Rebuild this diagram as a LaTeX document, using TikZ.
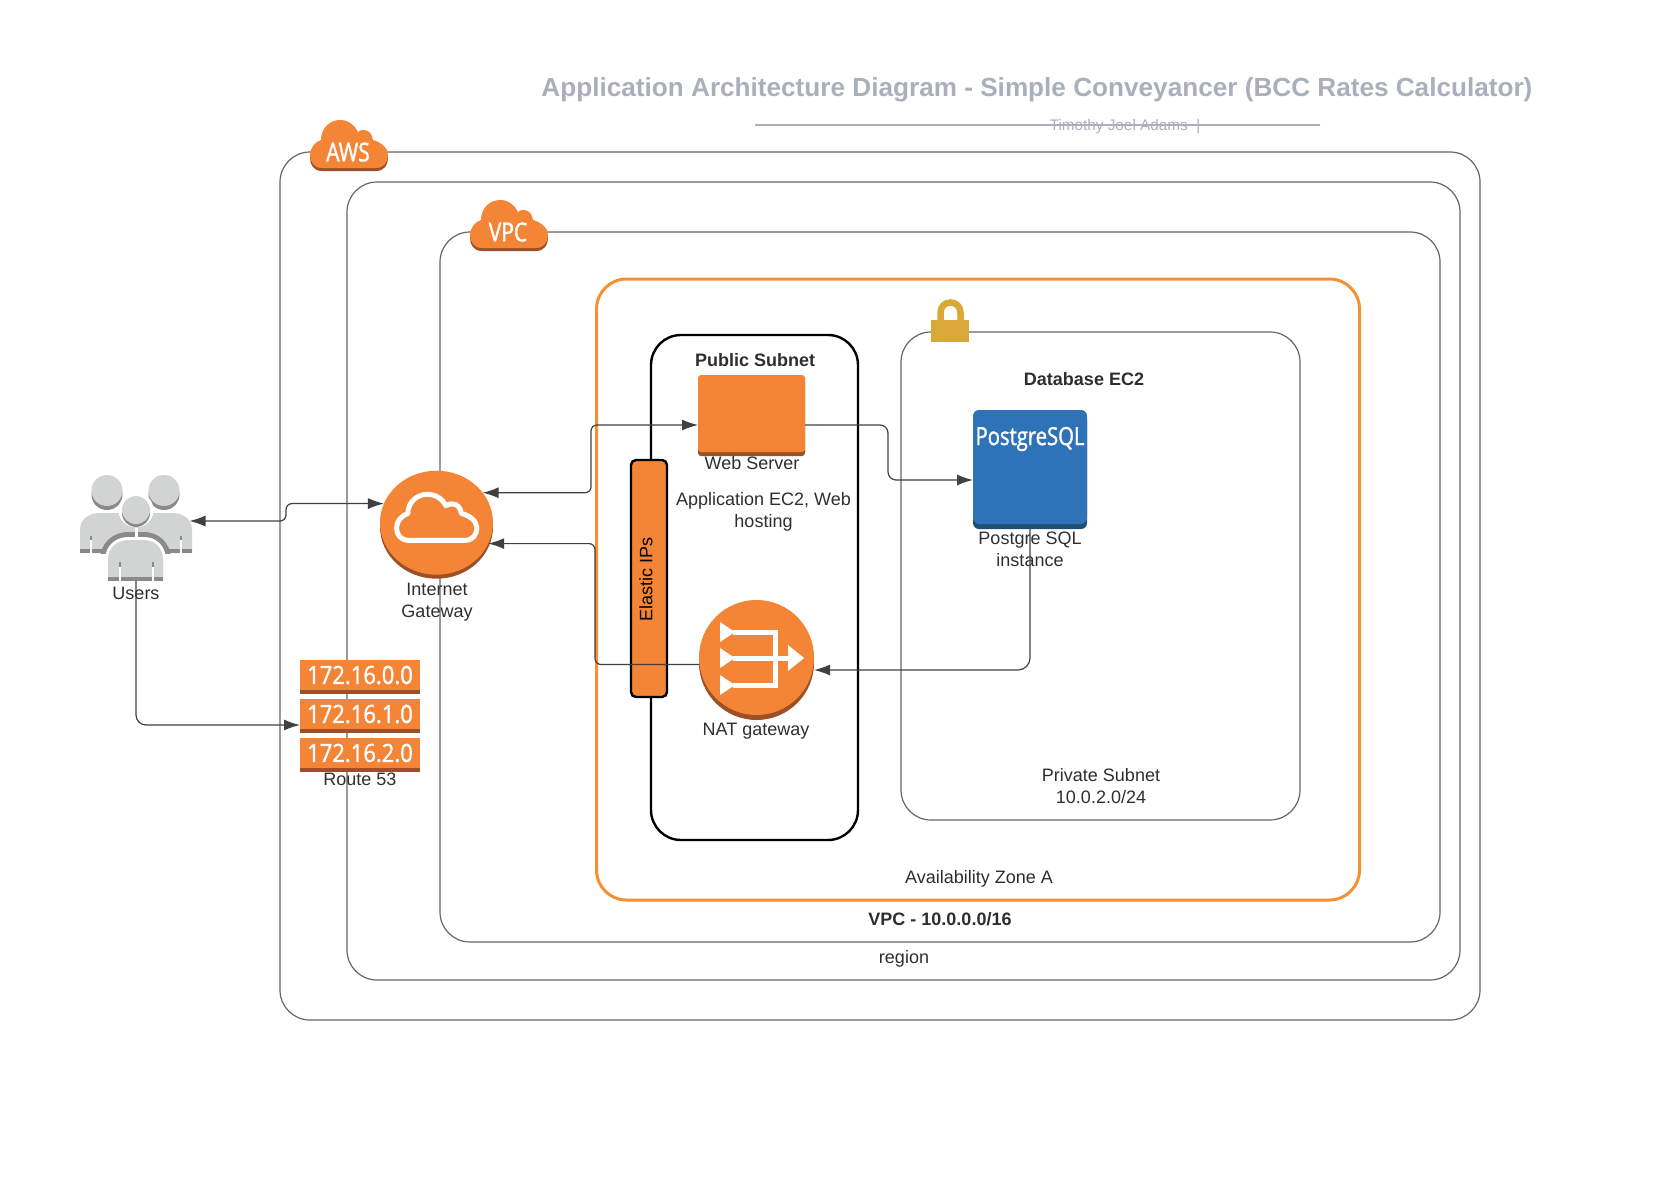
\documentclass[tikz,border=0pt]{standalone}
\usepackage{fontspec}
\setmainfont{Liberation Sans}
\newfontfamily\iconfont[FakeStretch=0.81,FakeBold=1.4]{Open Sans}
\newfontfamily\routefont[FakeStretch=0.88,FakeBold=1.4]{Open Sans}
\usepackage{tikz}
\usetikzlibrary{arrows.meta,shapes.geometric,shadows}
\definecolor{awsorange}{HTML}{F58536}
\definecolor{awsdark}{HTML}{9D5025}
\definecolor{pgblue}{HTML}{2E73B8}
\definecolor{pgdark}{HTML}{1E4D78}
\definecolor{lockgold}{HTML}{D9A836}
\definecolor{titlegray}{HTML}{A9B0BC}
\definecolor{userlight}{HTML}{D2D4D3}
\definecolor{userdark}{HTML}{8A8A8A}
\tikzstyle{zone}=      [draw=black!60,line width=1.2pt,rounded corners=30pt,inner sep=0pt,outer sep=0pt]
\tikzstyle{azone}=     [zone,draw=awsorange!90!yellow,line width=3pt]
\tikzstyle{pubzone}=   [zone,draw=black,line width=2.4pt]
\tikzstyle{icon}=      [fill=awsorange,inner sep=0pt,outer sep=0pt,general shadow={fill=awsdark,shadow xshift=0pt,shadow yshift=-4pt}]
\tikzstyle{txt}=       [text=black!82,font=\fontsize{18}{22}\selectfont,align=center,inner sep=0pt]
\tikzstyle{boldtxt}=   [txt,font=\fontsize{18}{22}\selectfont\bfseries]
\tikzstyle{icontxt}=   [text=white,inner sep=0pt]
\tikzstyle{link}=      [draw=black!75,line width=1.2pt,arrows={-Latex[length=16pt,width=11pt]}]
\tikzstyle{twolink}=   [link,arrows={Latex[length=16pt,width=11pt]-Latex[length=16pt,width=11pt]}]
\def\cloudpath{(12,48) .. controls (4,48) and (0,42) .. (0,35) .. controls (0,28) and (5,22) .. (11,20) .. controls (11,8) and (20,0) .. (30,0) .. controls (38,0) and (45,5) .. (48,12) .. controls (50,10) and (52,10) .. (54,10) .. controls (59,10) and (62,14) .. (63,20) .. controls (71,22) and (78,28) .. (78,35) .. controls (78,42) and (74,48) .. (66,48) -- cycle}
\def\frontbody{(108,581) -- (108,560) .. controls (108,547) and (118,540) .. (128,540) -- (144,540) .. controls (154,540) and (163,547) .. (163,560) -- (163,581) -- cycle}
\begin{document}
\begin{tikzpicture}[x=1pt,y=-1pt]
 \useasboundingbox (0,0) rectangle (1653,1180);

 \node[text=titlegray,font=\fontsize{26.15}{32}\selectfont\bfseries,inner sep=0pt] (title) at (1037,90) {Application Architecture Diagram - Simple Conveyancer (BCC Rates Calculator)};
 \coordinate (ruleL) at (755,125);
 \coordinate (ruleR) at (1320,125);
 \draw[titlegray,line width=1.5pt] (ruleL) -- (ruleR);
 \node[text=titlegray,font=\fontsize{15.3}{18}\selectfont,inner sep=0pt] (author) at (1125,127) {Timothy Joel Adams~~|};

 \node[zone,minimum width=1200pt,minimum height=868pt] (aws) at (880,586) {};
 \node[zone,minimum width=1113pt,minimum height=798pt] (region) at (903.5,581) {};
 \node[zone,minimum width=1000pt,minimum height=710pt] (vpc) at (940,587) {};
 \node[azone,minimum width=763pt,minimum height=621pt] (az) at (978,589.5) {};
 \node[pubzone,minimum width=207pt,minimum height=505pt] (pub) at (754.5,587.5) {};
 \node[zone,minimum width=399pt,minimum height=488pt] (priv) at (1100.5,576) {};

 % cloud badges
 \foreach \cx/\cy/\name in {310/120/AWS,470/200/VPC}
 {
  \fill[awsdark,shift={(\cx,\cy+3)}] \cloudpath;
  \fill[awsorange,shift={(\cx,\cy)}] \cloudpath;
  \node[icontxt,font=\fontsize{26}{30}\iconfont] (badge\name) at (\cx+38,\cy+32) {\name};
 }

 % lock
 \fill[lockgold] (931,320) rectangle (969,342);
 \draw[lockgold,line width=6.5pt] (940.5,322) -- (940.5,313) .. controls (940.5,299) and (960.5,299) .. (960.5,313) -- (960.5,322);

 % users
 \node[minimum width=112pt,minimum height=106pt,inner sep=0pt,outer sep=0pt] (users) at (136,528) {};
 \foreach \hx in {107,164}
 {
  \fill[userdark] (\hx,494.5) circle (15.5);
  \fill[userlight] (\hx,490.5) circle (15.5);
 }
 \fill[userlight] (80,553) -- (80,530) .. controls (80,518) and (90,513) .. (100,513) -- (172,513) .. controls (182,513) and (192,518) .. (192,530) -- (192,553) -- cycle;
 \fill[userdark] (80,549) rectangle (192,553);
 \foreach \sx in {91,181}
 {
  \fill[white] (\sx-1,536) rectangle (\sx+1,553);
  \fill[userdark] (\sx-1,536) rectangle (\sx+1,540);
 }
 \begin{scope}
  \clip (80,470) rectangle (192,553);
  \draw[userdark,line width=16pt] \frontbody;
 \end{scope}
 \fill[white] (134.5,528) rectangle (137.5,541);
 \draw[white,line width=6pt] \frontbody;
 \fill[white] (136,510) circle (17.5);
 \fill[userdark] (136,513) circle (14);
 \fill[userlight] (136,510) circle (14);
 \fill[userlight] \frontbody;
 \fill[userdark] (108,577) rectangle (163,581);
 \foreach \sx in {119.5,152.5}
 {
  \fill[white] (\sx-1,562) rectangle (\sx+1,581);
  \fill[userdark] (\sx-1,562) rectangle (\sx+1,567);
 }
 \node[txt] (userstxt) at (136,593) {Users};

 % internet gateway
 \node[icon,ellipse,minimum width=113pt,minimum height=104pt] (igw) at (436.5,522.7) {};
 \draw[white,line width=5pt,line join=round,xscale=1.03,yscale=0.96,shift={(385,514.9)}] \cloudpath;
 \node[txt] (igwtxt) at (437,602) {Internet\\Gateway};

 % route 53
 \foreach \n/\y in {0/660,1/699,2/738}
 {
  \node[icon,anchor=north,minimum width=120pt,minimum height=30pt,font=\fontsize{25}{30}\routefont,text=white] (route\n) at (360,\y) {172.16.\n.0};
 }
 \node[txt] (routetxt) at (360,779) {Route 53};

 % public subnet
 \node[boldtxt] (pubtxt) at (755,360) {Public Subnet};
 \node[icon,rounded corners=3pt,minimum width=107pt,minimum height=77pt] (web) at (751.5,413.5) {};
 \node[txt] (webtxt) at (752,463) {Web Server};
 \node[txt] (apptxt) at (763.5,511.5) {Application EC2, Web\\hosting};
 \node[draw=black,line width=2.4pt,fill=awsorange,rounded corners=5pt,minimum width=36pt,minimum height=237pt,inner sep=0pt,outer sep=0pt] (eip) at (649,578.5) {};
 \node[text=black,font=\fontsize{18}{22}\selectfont,rotate=90,inner sep=0pt] (eiptxt) at (646,579) {Elastic IPs};

 % nat gateway
 \node[icon,circle,minimum size=115pt,general shadow={fill=awsdark,shadow xshift=0pt,shadow yshift=-5pt}] (nat) at (756.5,657.5) {};
 \foreach \ty in {632,658,685}
 {
  \fill[white] (720,\ty-10) -- (735,\ty) -- (720,\ty+10) -- cycle;
  \draw[white,line width=5pt] (733,\ty) -- (777,\ty);
 }
 \draw[white,line width=5pt,line cap=rect] (775,632) -- (775,685);
 \draw[white,line width=5pt] (775,658) -- (790,658);
 \fill[white] (788,645) -- (804,658) -- (788,671) -- cycle;
 \node[txt] (nattxt) at (756,731) {NAT gateway};

 % private subnet
 \node[boldtxt] (dbtxt) at (1084,379) {Database EC2};
 \node[fill=pgblue,rounded corners=6pt,minimum size=114pt,inner sep=0pt,outer sep=0pt,general shadow={fill=pgdark,shadow xshift=0pt,shadow yshift=-5pt}] (pg) at (1030,467) {};
 \node[icontxt,font=\fontsize{25}{30}\iconfont] (pgname) at (1030,439) {PostgreSQL};
 \node[txt] (pgtxt) at (1030,549) {Postgre SQL\\instance};
 \node[txt] (privtxt) at (1101,786) {Private Subnet\\10.0.2.0/24};

 \node[txt] (aztxt) at (979,879) {Availability Zone A};
 \node[boldtxt] (vpctxt) at (940,919) {VPC - 10.0.0.0/16};
 \node[txt] (regiontxt) at (904,959) {region};

 % connectors
 \coordinate (bendA) at (286,0);
 \coordinate (bendB) at (591,0);
 \coordinate (bendC) at (888,0);
 \coordinate (bendD) at (595,0);
 \coordinate (webIn) at ([yshift=-11.5pt]web.west);
 \coordinate (webOut) at ([yshift=-11.5pt]web.east);
 \coordinate (pgIn) at ([yshift=-13pt]pg.west);
 \draw[twolink,rounded corners=6pt] ([xshift=-2.5pt,yshift=7pt]users.east) -| (bendA |- igw.160) -- (igw.160);
 \draw[link,rounded corners=10pt] (users.south) |- ([yshift=-11pt]route1.west);
 \draw[twolink,rounded corners=6pt] (igw.33) -| (bendB |- webIn) -- (webIn);
 \draw[link,rounded corners=8pt] (webOut) -| (bendC |- pgIn) -- (pgIn);
 \draw[link,rounded corners=12pt] ([yshift=-5pt]pg.south) |- ([yshift=-12.5pt]nat.east);
 \draw[link,rounded corners=6pt] ([yshift=-7pt]nat.west) -| (bendD |- igw.-22) -- (igw.-22);
\end{tikzpicture}
\end{document}
